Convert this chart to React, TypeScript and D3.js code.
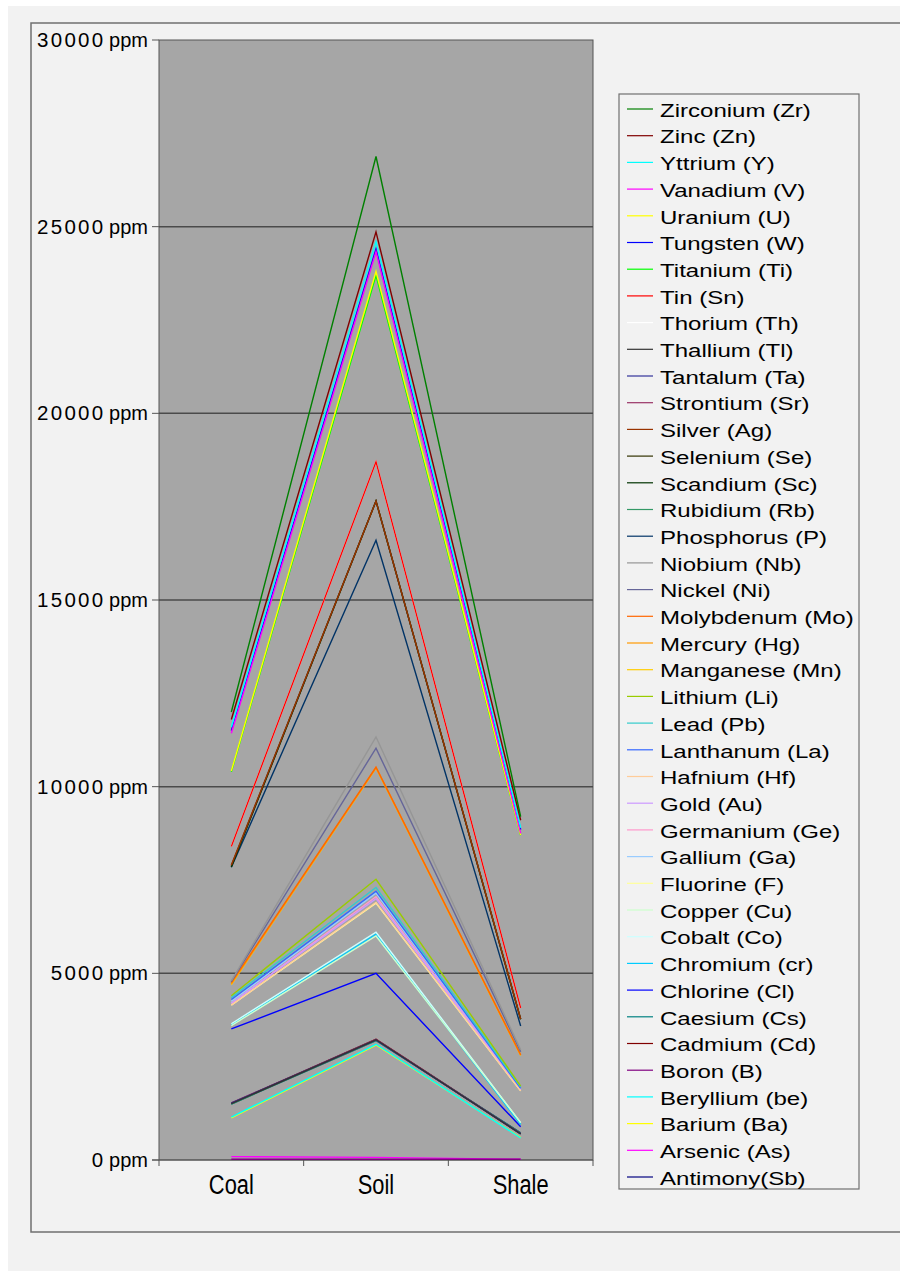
import React from "react";
import * as d3 from "d3";

const categories = ["Coal", "Soil", "Shale"];

const elements = [
  "Antimony(Sb)", "Arsenic (As)", "Barium (Ba)", "Beryllium (be)", "Boron (B)",
  "Cadmium (Cd)", "Caesium (Cs)", "Chlorine (Cl)", "Chromium (cr)", "Cobalt (Co)",
  "Copper (Cu)", "Fluorine (F)", "Gallium (Ga)", "Germanium (Ge)", "Gold (Au)",
  "Hafnium (Hf)", "Lanthanum (La)", "Lead (Pb)", "Lithium (Li)", "Manganese (Mn)",
  "Mercury (Hg)", "Molybdenum (Mo)", "Nickel (Ni)", "Niobium (Nb)", "Phosphorus (P)",
  "Rubidium (Rb)", "Scandium (Sc)", "Selenium (Se)", "Silver (Ag)", "Strontium (Sr)",
  "Tantalum (Ta)", "Thallium (Tl)", "Thorium (Th)", "Tin (Sn)", "Titanium (Ti)",
  "Tungsten (W)", "Uranium (U)", "Vanadium (V)", "Yttrium (Y)", "Zinc (Zn)",
  "Zirconium (Zr)",
];

const coalValues = [
  1520, 90, 1130, 1150, 20,
  1510, 1500, 3510, 3620, 3650,
  3600, 4150, 4250, 4200, 4200,
  4150, 4300, 4350, 4400, 4700,
  4720, 4750, 4780, 4800, 7840,
  1500, 7850, 7880, 7900, 1530,
  1520, 1510, 8400, 8400, 10400,
  11500, 10420, 11430, 11600, 11800,
  12000,
];

const soilValues = [
  3220, 70, 3080, 3100, 20,
  3230, 3200, 5000, 6050, 6100,
  6000, 6880, 7150, 7050, 7000,
  6900, 7200, 7300, 7520, 10500,
  10510, 10520, 11030, 11330, 16600,
  3200, 17650, 17650, 17650, 3230,
  3210, 3220, 18700, 18700, 23700,
  24400, 23800, 24330, 24600, 24860,
  26880,
];

const shaleValues = [
  700, 20, 600, 590, 20,
  720, 730, 890, 950, 1000,
  1000, 1850, 1900, 1880, 1870,
  1850, 1920, 1950, 1980, 2800,
  2810, 2820, 2900, 2950, 3590,
  720, 3770, 3770, 3780, 710,
  710, 700, 4070, 4070, 8700,
  8850, 8700, 8750, 8900, 9100,
  9200,
];

const palette = [
  "#000080", "#FF00FF", "#FFFF00", "#00FFFF", "#800080",
  "#800000", "#008080", "#0000FF", "#00CCFF", "#CCFFFF",
  "#CCFFCC", "#FFFF99", "#99CCFF", "#FF99CC", "#CC99FF",
  "#FFCC99", "#3366FF", "#33CCCC", "#99CC00", "#FFCC00",
  "#FF9900", "#FF6600", "#666699", "#969696", "#003366",
  "#339966", "#003300", "#333300", "#993300", "#993366",
  "#333399", "#333333", "#FFFFFF", "#FF0000", "#00FF00",
  "#0000FF", "#FFFF00", "#FF00FF", "#00FFFF", "#800000",
  "#008000",
];

const yTicks = [0, 5000, 10000, 15000, 20000, 25000, 30000];

const W = 900;
const H = 1277;
const plot = { left: 159, right: 593, top: 40, bottom: 1160 };

export default function App() {
  const x = d3.scaleBand<string>().domain(categories).range([plot.left, plot.right]).paddingInner(0).paddingOuter(0);
  const y = d3.scaleLinear().domain([0, 30000]).range([plot.bottom, plot.top]);
  const cx = (c: string) => (x(c) as number) + x.bandwidth() / 2;

  const line = d3
    .line<[string, number]>()
    .x((d) => cx(d[0]))
    .y((d) => y(d[1]));

  const series = elements.map((name, i) => ({
    name,
    color: palette[i],
    pts: [
      [categories[0], coalValues[i]],
      [categories[1], soilValues[i]],
      [categories[2], shaleValues[i]],
    ] as [string, number][],
  }));

  const legendOrder = series.slice().reverse();
  const legend = { x: 619, y: 94, w: 240, h: 1095, step: 26.7, first: 110 };
  const font = "'Liberation Sans', Arial, sans-serif";

  const boundaries = [plot.left, ...categories.map((c) => (x(c) as number) + x.bandwidth())];

  return (
    <svg
      width={W}
      height={H}
      style={{ position: "absolute", left: 0, top: 0, display: "block" }}
      fontFamily={font}
    >
      <rect x={0} y={0} width={W} height={H} fill="#ffffff" />
      <rect x={8} y={6} width={W - 8} height={H - 12} fill="#f2f2f2" />
      {/* page frame */}
      <path d={`M${W},23 H31 V1232 H${W}`} fill="none" stroke="#707070" strokeWidth={1.5} />

      {/* plot area */}
      <rect
        x={plot.left}
        y={plot.top}
        width={plot.right - plot.left}
        height={plot.bottom - plot.top}
        fill="#a6a6a6"
        stroke="#555"
        strokeWidth={1}
      />
      {yTicks.map((t) => (
        <g key={t}>
          {t > 0 && t < 30000 && (
            <line x1={plot.left} x2={plot.right} y1={y(t)} y2={y(t)} stroke="#4a4a4a" strokeWidth={1.5} />
          )}
          <line x1={plot.left - 7} x2={plot.left} y1={y(t)} y2={y(t)} stroke="#555" strokeWidth={1} />
          <text x={148} y={y(t) + 7} textAnchor="end" fontSize={20} fill="#000">
            <tspan fontSize={20.5} letterSpacing={2.3}>{String(t)}</tspan>
            <tspan dx={-2}>{" ppm"}</tspan>
          </text>
        </g>
      ))}
      {/* x axis */}
      <line x1={plot.left - 7} x2={plot.right} y1={plot.bottom} y2={plot.bottom} stroke="#555" strokeWidth={1.2} />
      {boundaries.map((b, i) => (
        <line key={i} x1={b} x2={b} y1={plot.bottom} y2={plot.bottom + 6} stroke="#555" strokeWidth={1} />
      ))}
      {categories.map((c) => (
        <text
          key={c}
          transform={`translate(${cx(c)},1194) scale(0.81,1)`}
          textAnchor="middle"
          fontSize={27}
          fill="#000"
        >
          {c}
        </text>
      ))}

      {/* series */}
      {series.map((s) => (
        <path key={s.name} d={line(s.pts) || ""} fill="none" stroke={s.color} strokeWidth={1.4} />
      ))}

      {/* legend */}
      <rect x={legend.x} y={legend.y} width={legend.w} height={legend.h} fill="#f2f2f2" stroke="#707070" strokeWidth={1.2} />
      {legendOrder.map((s, i) => {
        const cy = legend.first + i * legend.step;
        return (
          <g key={s.name}>
            <line x1={627} x2={653} y1={cy - 1} y2={cy - 1} stroke={s.color} strokeWidth={1.2} />
            <text transform={`translate(660,${cy + 6.7}) scale(1.3,1)`} fontSize={18.5} fill="#000">
              {s.name}
            </text>
          </g>
        );
      })}
    </svg>
  );
}
